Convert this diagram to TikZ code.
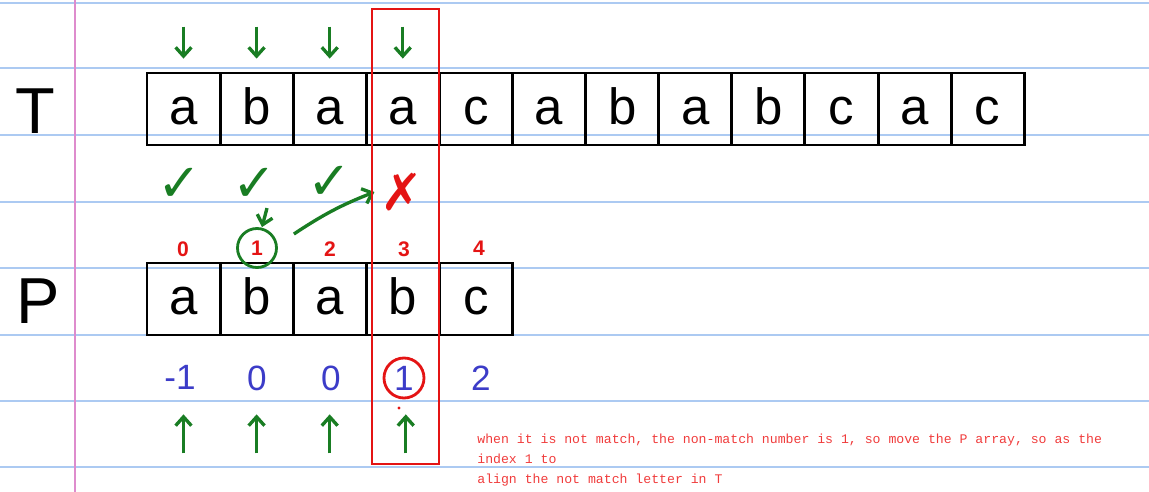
\documentclass[tikz,border=0pt]{standalone}
\usepackage{fontspec}
\setmainfont{Liberation Sans}
\newfontfamily\notefont{Liberation Mono}
\newfontfamily\symfont{DejaVu Sans}
\usetikzlibrary{arrows.meta}

\definecolor{penred}{RGB}{228,20,20}
\definecolor{pengreen}{RGB}{25,125,35}
\definecolor{penblue}{RGB}{60,60,200}
\definecolor{ruleblue}{RGB}{172,202,242}
\definecolor{marginpink}{RGB}{222,140,205}
\definecolor{notered}{RGB}{240,60,60}

\tikzset{
  cell/.style={shape=rectangle, draw, line width=1.6pt, minimum width=1.46cm, minimum height=1.44cm,
    inner sep=0pt, text height=0.64cm, text depth=0cm, font=\fontsize{29}{29}\selectfont},
  label/.style={font=\fontsize{37}{37}\selectfont},
  index/.style={penred, font=\fontsize{12}{12}\selectfont\bfseries},
  next/.style={penblue, font=\fontsize{20}{20}\selectfont},
  tick/.style={pengreen, font=\symfont\fontsize{30}{30}\selectfont},
  pointer/.style={pengreen, line width=1.9pt, -{Straight Barb[length=5pt,width=9pt]}},
  ring/.style={shape=circle, line width=1.6pt, minimum size=0.78cm, inner sep=0pt},
  rule/.style={ruleblue, line width=1.1pt}
}

\begin{document}
\begin{tikzpicture}[x=0.02cm, y=-0.02cm]
\useasboundingbox (0,0) rectangle (1149,492);

% ruled paper
\foreach \y in {3,68,135,202,268,335,401,467}
  \draw [rule] (0,\y) -- (1149,\y);
\draw [marginpink, line width=1.2pt] (75,0) -- (75,492);

\node (T) at (35,111) [label] {T};
\node (P) at (38,301) [label] {P};

% text T
\node (t0) at (183.5,109) [cell] {a};
\node (t1) at (256.6,109) [cell] {b};
\node (t2) at (329.7,109) [cell] {a};
\node (t3) at (402.8,109) [cell] {a};
\node (t4) at (476.0,109) [cell] {c};
\node (t5) at (549.1,109) [cell] {a};
\node (t6) at (622.2,109) [cell] {b};
\node (t7) at (695.3,109) [cell] {a};
\node (t8) at (768.4,109) [cell] {b};
\node (t9) at (841.5,109) [cell] {c};
\node (t10) at (914.6,109) [cell] {a};
\node (t11) at (987.7,109) [cell] {c};

% pattern P
\node (p0) at (183.5,299) [cell] {a};
\node (p1) at (256.6,299) [cell] {b};
\node (p2) at (329.7,299) [cell] {a};
\node (p3) at (402.8,299) [cell] {b};
\node (p4) at (476.0,299) [cell] {c};

\node (i0) at (183,249) [index] {0};
\node (i1) at (257,248) [index] {1};
\node (i2) at (330,249) [index] {2};
\node (i3) at (404,249) [index] {3};
\node (i4) at (479,248) [index] {4};

\node (n0) at (180,377) [next] {-1};
\node (n1) at (257,378) [next] {0};
\node (n2) at (331,378) [next] {0};
\node (n3) at (404,378) [next] {1};
\node (n4) at (481,378) [next] {2};

\node (ck0) at (180,185) [tick] {✓};
\node (ck1) at (255,185) [tick] {✓};
\node (ck2) at (330,183) [tick] {✓};
\node (miss) at (402,192) [penred, font=\symfont\fontsize{29}{29}\selectfont] {✗};

\node (hit) at (i1) [ring, draw=pengreen] {};
\node (key) at (n3) [ring, draw=penred, minimum size=0.8cm] {};

% pointers
\draw [pointer] ([yshift=0.9cm]t0.north) -- ([yshift=0.26cm]t0.north);
\draw [pointer] ([yshift=0.9cm]t1.north) -- ([yshift=0.26cm]t1.north);
\draw [pointer] ([yshift=0.9cm]t2.north) -- ([yshift=0.26cm]t2.north);
\draw [pointer] ([yshift=0.9cm]t3.north) -- ([yshift=0.26cm]t3.north);

\draw [pointer] ([yshift=-2.34cm]p0.south) -- ([yshift=-1.56cm]p0.south);
\draw [pointer] ([yshift=-2.34cm]p1.south) -- ([yshift=-1.56cm]p1.south);
\draw [pointer] ([yshift=-2.34cm]p2.south) -- ([yshift=-1.56cm]p2.south);
\draw [pointer] ([xshift=0.06cm,yshift=-2.34cm]p3.south) -- ([xshift=0.06cm,yshift=-1.56cm]p3.south);

\draw [pointer] ([shift={(0.2cm,0.38cm)}]hit.north) -- ([xshift=0.1cm]hit.north);
\draw [pointer] ([shift={(0.32cm,0.28cm)}]hit.east) to [bend left=6] (miss.west);

\fill [penred] (399,408) circle (1.6);

\node (note) at (477,434) [anchor=north west, inner sep=0pt, align=left, notered,
  font=\notefont\fontsize{7.5}{11.3}\selectfont]
  {when it is not match, the non-match number is 1, so move the P array, so as the\\
   index 1 to\\
   align the not match letter in T};

\draw [penred, line width=0.6pt] (372,9) rectangle (439,464);
\end{tikzpicture}
\end{document}
